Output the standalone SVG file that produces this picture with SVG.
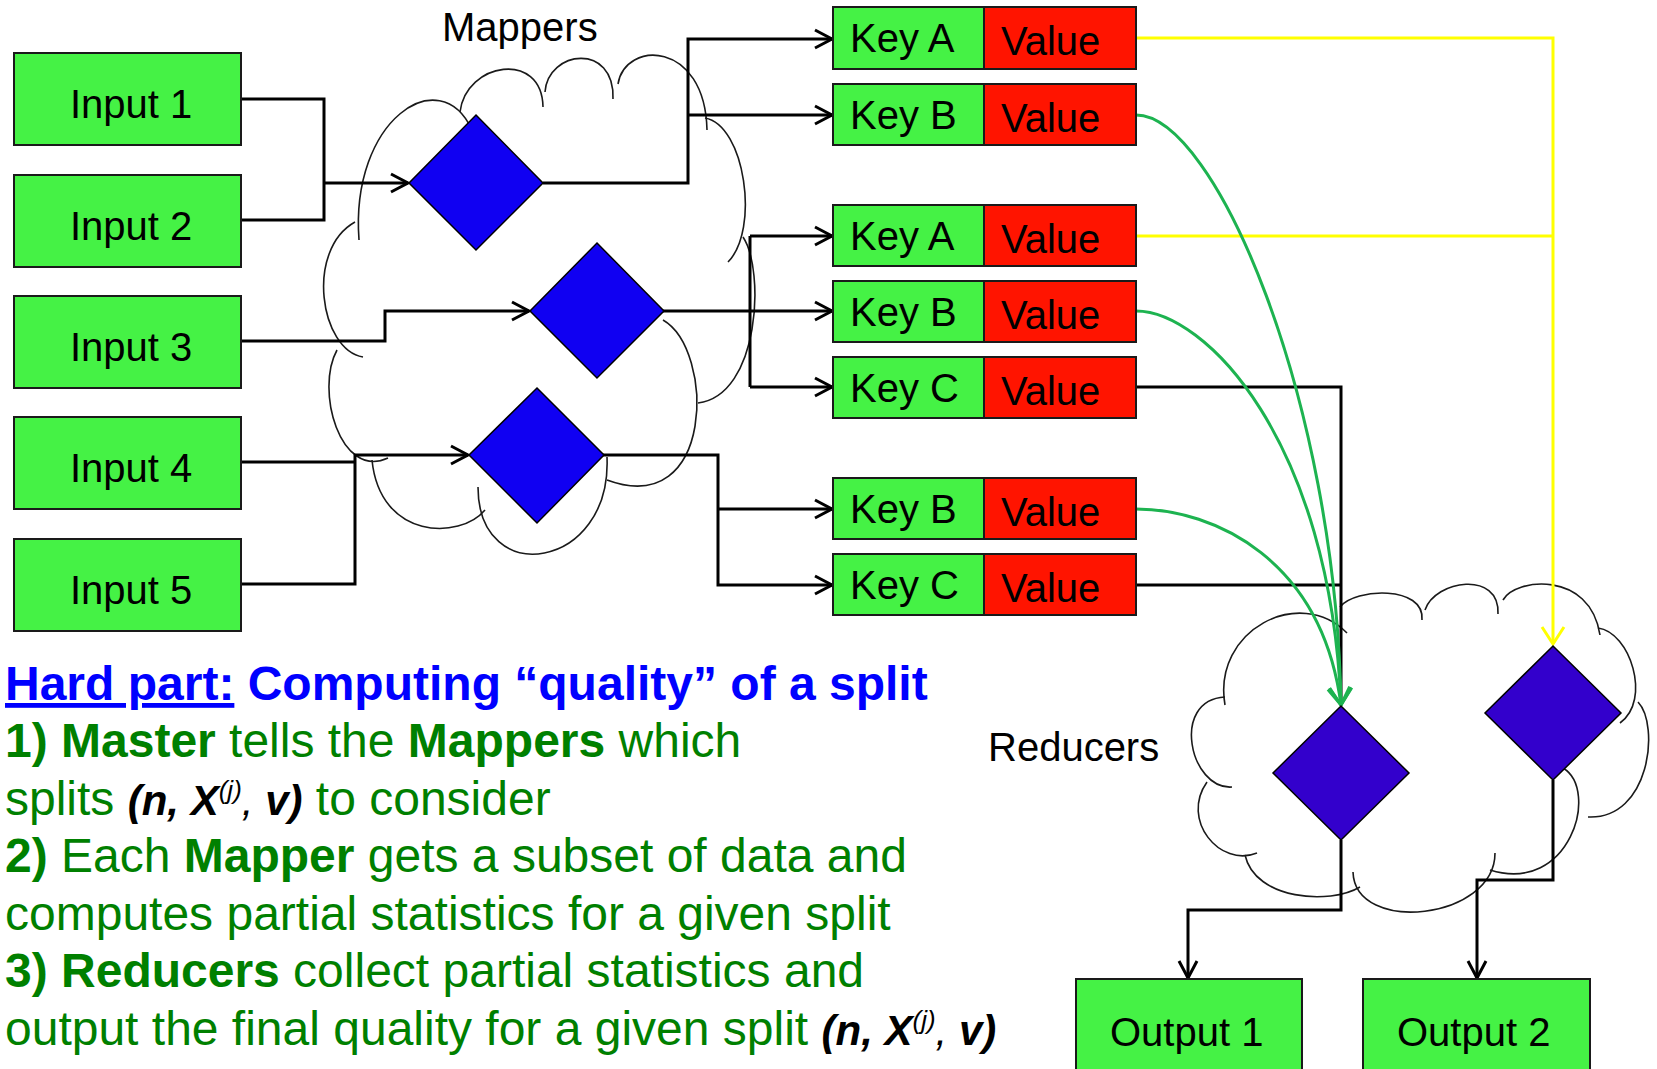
<svg xmlns="http://www.w3.org/2000/svg" width="1657" height="1069" viewBox="0 0 1657 1069">
  <style>
    .box { fill: #45f245; stroke: #1a1a1a; stroke-width: 2; }
    .val { fill: #ff1400; stroke: #1a1a1a; stroke-width: 2; }
    .lbl { font-family: "Liberation Sans", Arial, sans-serif; font-size: 40px; fill: #000; }
    .map { fill: #1000f2; stroke: #000; stroke-width: 1.5; }
    .red { fill: #3300cc; stroke: #000; stroke-width: 1.5; }
    .cloud { fill: none; stroke: #1a1a1a; stroke-width: 1.6; }
    .wire { fill: none; stroke: #000; stroke-width: 3; }
    .ywire { fill: none; stroke: #ffff00; stroke-width: 3; }
    .gwire { fill: none; stroke: #1db350; stroke-width: 3; }
    .note { font-family: "Liberation Sans", Arial, sans-serif; font-size: 48px; }
    .hb { font-weight: bold; fill: #0000ff; }
    .g { fill: #008000; }
    .gb { fill: #008000; font-weight: bold; }
    .m { fill: #000; font-weight: bold; font-style: italic; font-size: 42px; }
    .mi { fill: #000; font-style: italic; font-size: 42px; }
    .sup { fill: #000; font-style: italic; font-size: 26px; }
  </style>
  <defs>
    <marker id="ah-black" markerUnits="userSpaceOnUse" markerWidth="24" markerHeight="24" viewBox="0 0 24 24" refX="20" refY="12" orient="auto">
      <path d="M3 3 L20 12 L3 21" fill="none" stroke="#000" stroke-width="3"/>
    </marker>
    <marker id="ah-green" markerUnits="userSpaceOnUse" markerWidth="24" markerHeight="26" viewBox="0 0 24 26" refX="20" refY="13" orient="auto">
      <path d="M3 2 L20 13 L3 24" fill="none" stroke="#1db350" stroke-width="3"/>
    </marker>
    <marker id="ah-yellow" markerUnits="userSpaceOnUse" markerWidth="24" markerHeight="26" viewBox="0 0 24 26" refX="20" refY="13" orient="auto">
      <path d="M3 2 L20 13 L3 24" fill="none" stroke="#ffff00" stroke-width="3"/>
    </marker>
  </defs>

  <rect width="1657" height="1069" fill="#fff"/>

  <!-- Mapper cloud -->
  <g id="mapper-cloud" class="cloud">
    <path d="M359 240 C350 120 440 60 472 130"/>
    <path d="M460 112 C466 62 542 50 543 107"/>
    <path d="M545 92 C548 50 615 42 613 99"/>
    <path d="M618 84 C625 40 705 40 707 130"/>
    <path d="M705 118 C745 125 760 230 728 262"/>
    <path d="M743 237 C765 270 760 395 698 403"/>
    <path d="M663 320 C715 350 715 520 607 480"/>
    <path d="M607 457 C612 570 478 590 478 487"/>
    <path d="M485 510 C460 540 380 540 372 460"/>
    <path d="M388 458 C340 480 315 390 337 350"/>
    <path d="M363 357 C320 350 305 250 355 222"/>
  </g>

  <!-- Reducer cloud -->
  <g id="reducer-cloud" class="cloud">
    <path d="M1225 705 C1212 630 1300 585 1347 633"/>
    <path d="M1340 607 C1355 588 1425 585 1422 620"/>
    <path d="M1425 610 C1435 580 1500 570 1498 614"/>
    <path d="M1503 600 C1515 578 1590 570 1600 635"/>
    <path d="M1598 628 C1630 632 1652 700 1620 723"/>
    <path d="M1638 702 C1660 725 1650 820 1588 817"/>
    <path d="M1563 768 C1600 790 1570 895 1490 870"/>
    <path d="M1495 853 C1495 920 1355 935 1353 872"/>
    <path d="M1360 887 C1330 905 1255 900 1245 855"/>
    <path d="M1257 853 C1220 868 1180 820 1207 782"/>
    <path d="M1232 787 C1190 790 1170 700 1225 697"/>
  </g>

  <!-- Group labels -->
  <text class="lbl" x="442" y="41">Mappers</text>
  <text class="lbl" x="988" y="761">Reducers</text>

  <!-- Connectors -->
  <g id="connectors">
    <path class="wire" d="M241 99 H324 V220 H241"/>
    <path class="wire" d="M324 183 H408" marker-end="url(#ah-black)"/>
    <path class="wire" d="M241 341 H385 V311 H529" marker-end="url(#ah-black)"/>
    <path class="wire" d="M241 462 H355"/>
    <path class="wire" d="M241 584 H355 V455 H468" marker-end="url(#ah-black)"/>

    <path class="wire" d="M543 183 H688 V39 H832" marker-end="url(#ah-black)"/>
    <path class="wire" d="M688 115 H832" marker-end="url(#ah-black)"/>
    <path class="wire" d="M663 311 H832" marker-end="url(#ah-black)"/>
    <path class="wire" d="M750 236 V387"/>
    <path class="wire" d="M750 236 H832" marker-end="url(#ah-black)"/>
    <path class="wire" d="M750 387 H832" marker-end="url(#ah-black)"/>
    <path class="wire" d="M603 455 H718 V585 H832" marker-end="url(#ah-black)"/>
    <path class="wire" d="M718 509 H832" marker-end="url(#ah-black)"/>

    <path class="wire" d="M1136 387 H1341 V700"/>
    <path class="wire" d="M1136 585 H1341"/>

    <path class="ywire" d="M1136 236 H1553"/>
    <path class="ywire" d="M1136 38 H1553 V644" marker-end="url(#ah-yellow)"/>

    <path class="gwire" d="M1136 115 C1215 115 1336 400 1341 705" marker-end="url(#ah-green)"/>
    <path class="gwire" d="M1136 311 C1205 311 1330 440 1341 705" marker-end="url(#ah-green)"/>
    <path class="gwire" d="M1136 509 C1215 509 1322 560 1341 705" marker-end="url(#ah-green)"/>

    <path class="wire" d="M1341 840 V910 H1188 V978" marker-end="url(#ah-black)"/>
    <path class="wire" d="M1553 780 V880 H1477 V978" marker-end="url(#ah-black)"/>
  </g>

  <!-- Inputs -->
  <g id="input1"><rect class="box" x="14" y="53" width="227" height="92"/><text class="lbl" x="70" y="118">Input 1</text></g>
  <g id="input2"><rect class="box" x="14" y="175" width="227" height="92"/><text class="lbl" x="70" y="240">Input 2</text></g>
  <g id="input3"><rect class="box" x="14" y="296" width="227" height="92"/><text class="lbl" x="70" y="361">Input 3</text></g>
  <g id="input4"><rect class="box" x="14" y="417" width="227" height="92"/><text class="lbl" x="70" y="482">Input 4</text></g>
  <g id="input5"><rect class="box" x="14" y="539" width="227" height="92"/><text class="lbl" x="70" y="604">Input 5</text></g>

  <!-- Mappers -->
  <g id="mapper1"><path class="map" d="M476 115 L543 183 L476 250 L409 183 Z"/></g>
  <g id="mapper2"><path class="map" d="M597 243 L664 311 L597 378 L530 311 Z"/></g>
  <g id="mapper3"><path class="map" d="M537 388 L604 455 L537 523 L469 455 Z"/></g>

  <!-- Key / value pairs -->
  <g id="kv1"><rect class="box" x="833" y="7" width="151" height="62"/><rect class="val" x="984" y="7" width="152" height="62"/><text class="lbl" x="850" y="52">Key A</text><text class="lbl" x="1001" y="55">Value</text></g>
  <g id="kv2"><rect class="box" x="833" y="84" width="151" height="61"/><rect class="val" x="984" y="84" width="152" height="61"/><text class="lbl" x="850" y="129">Key B</text><text class="lbl" x="1001" y="132">Value</text></g>
  <g id="kv3"><rect class="box" x="833" y="205" width="151" height="61"/><rect class="val" x="984" y="205" width="152" height="61"/><text class="lbl" x="850" y="250">Key A</text><text class="lbl" x="1001" y="253">Value</text></g>
  <g id="kv4"><rect class="box" x="833" y="281" width="151" height="61"/><rect class="val" x="984" y="281" width="152" height="61"/><text class="lbl" x="850" y="326">Key B</text><text class="lbl" x="1001" y="329">Value</text></g>
  <g id="kv5"><rect class="box" x="833" y="357" width="151" height="61"/><rect class="val" x="984" y="357" width="152" height="61"/><text class="lbl" x="850" y="402">Key C</text><text class="lbl" x="1001" y="405">Value</text></g>
  <g id="kv6"><rect class="box" x="833" y="478" width="151" height="61"/><rect class="val" x="984" y="478" width="152" height="61"/><text class="lbl" x="850" y="523">Key B</text><text class="lbl" x="1001" y="526">Value</text></g>
  <g id="kv7"><rect class="box" x="833" y="554" width="151" height="61"/><rect class="val" x="984" y="554" width="152" height="61"/><text class="lbl" x="850" y="599">Key C</text><text class="lbl" x="1001" y="602">Value</text></g>

  <!-- Reducers -->
  <g id="reducer1"><path class="red" d="M1341 706 L1409 773 L1341 840 L1273 773 Z"/></g>
  <g id="reducer2"><path class="red" d="M1553 646 L1621 713 L1553 780 L1485 713 Z"/></g>

  <!-- Outputs -->
  <g id="output1"><rect class="box" x="1076" y="979" width="226" height="100"/><text class="lbl" x="1110" y="1046">Output 1</text></g>
  <g id="output2"><rect class="box" x="1363" y="979" width="227" height="100"/><text class="lbl" x="1397" y="1046">Output 2</text></g>

  <!-- Explanatory notes -->
  <g id="notes" class="note">
    <text x="5" y="700" class="hb"><tspan style="text-decoration:underline">Hard part:</tspan> Computing “quality” of a split</text>
    <text x="5" y="757"><tspan class="gb">1) Master</tspan><tspan class="g"> tells the </tspan><tspan class="gb">Mappers</tspan><tspan class="g"> which</tspan></text>
    <text x="5" y="815"><tspan class="g">splits </tspan><tspan class="m">(n, X</tspan><tspan class="sup" dy="-16">(j)</tspan><tspan class="mi" dy="16">, </tspan><tspan class="m">v)</tspan><tspan class="g"> to consider</tspan></text>
    <text x="5" y="872"><tspan class="gb">2)</tspan><tspan class="g"> Each </tspan><tspan class="gb">Mapper</tspan><tspan class="g"> gets a subset of data and</tspan></text>
    <text x="5" y="930" class="g">computes partial statistics for a given split</text>
    <text x="5" y="987"><tspan class="gb">3) Reducers</tspan><tspan class="g"> collect partial statistics and</tspan></text>
    <text x="5" y="1045"><tspan class="g">output the final quality for a given split </tspan><tspan class="m">(n, X</tspan><tspan class="sup" dy="-16">(j)</tspan><tspan class="mi" dy="16">, </tspan><tspan class="m">v)</tspan></text>
  </g>
</svg>
